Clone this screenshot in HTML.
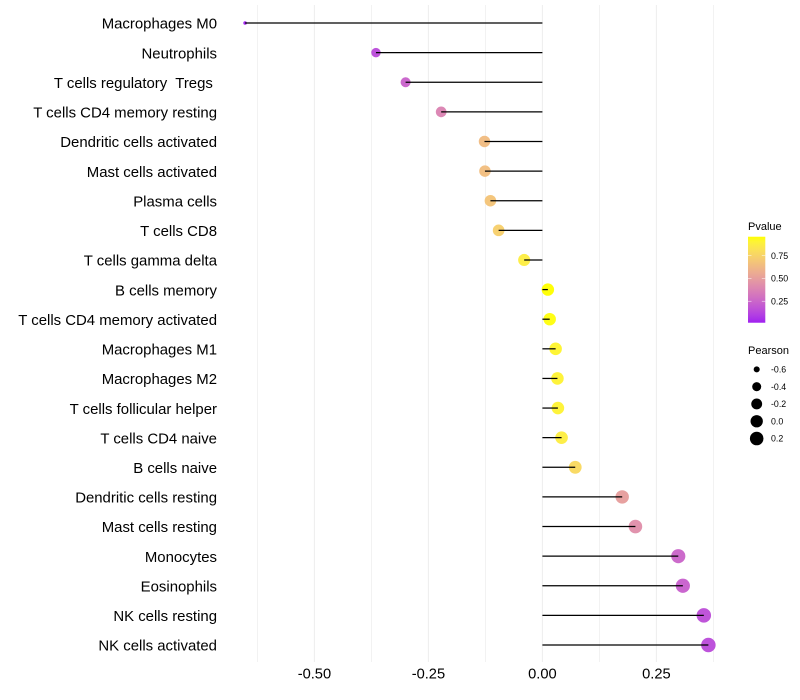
<!DOCTYPE html>
<html>
<head>
<meta charset="utf-8">
<title>Lollipop chart</title>
<style>
html,body{margin:0;padding:0;background:#fff;}
svg{display:block;font-family:"Liberation Sans",Arial,sans-serif;}
</style>
</head>
<body>
<svg id="chart" width="800" height="700" viewBox="0 0 800 700" xmlns="http://www.w3.org/2000/svg">
<defs>
<linearGradient id="pvalue-gradient" x1="0" y1="1" x2="0" y2="0"></linearGradient>
</defs>
<rect x="0" y="0" width="800" height="700" fill="#ffffff"/>
<g id="grid"></g>
<g id="points"></g>
<g id="stems"></g>
<g id="ylabels"></g>
<g id="xlabels"></g>
<g id="color-legend"></g>
<g id="size-legend"></g>
</svg>
<script>
const categories = ["Macrophages M0","Neutrophils","T cells regulatory  Tregs ","T cells CD4 memory resting","Dendritic cells activated","Mast cells activated","Plasma cells","T cells CD8","T cells gamma delta","B cells memory","T cells CD4 memory activated","Macrophages M1","Macrophages M2","T cells follicular helper","T cells CD4 naive","B cells naive","Dendritic cells resting","Mast cells resting","Monocytes","Eosinophils","NK cells resting","NK cells activated"];
const pearson = [-0.652,-0.365,-0.300,-0.222,-0.127,-0.126,-0.114,-0.096,-0.040,0.012,0.016,0.029,0.033,0.034,0.042,0.072,0.175,0.204,0.298,0.308,0.354,0.364];
const pvalue = [0.014,0.15,0.24,0.38,0.64,0.65,0.68,0.73,0.87,0.957,0.95,0.91,0.90,0.90,0.87,0.78,0.50,0.43,0.25,0.23,0.16,0.15];
const majorTicks = [-0.5,-0.25,0,0.25];
const minorTicks = [-0.625,-0.375,-0.125,0.125,0.375];
const xTickLabels = ["-0.50","-0.25","0.00","0.25"];
const colorTicks = [0.75,0.5,0.25];
const colorTickLabels = ["0.75","0.50","0.25"];
const sizeLegendValues = [-0.6,-0.4,-0.2,0,0.2];
const sizeLegendLabels = ["-0.6","-0.4","-0.2","0.0","0.2"];

const NS = "http://www.w3.org/2000/svg";
function make(tag, attrs, parent, text) {
  const el = document.createElementNS(NS, tag);
  for (const k in attrs) el.setAttribute(k, attrs[k]);
  if (text !== undefined) {
    el.textContent = text;
    el.setAttribute("xml:space", "preserve");
    el.style.whiteSpace = "pre";
  }
  parent.appendChild(el);
  return el;
}
const xScale = v => 542.4 + 456 * v;
const yScale = i => 23 + 29.62 * i;
const colorY = p => 301.2 + (0.25 - p) * 91.2;

const pMin = Math.min(...pvalue), pMax = Math.max(...pvalue);
const rMin = Math.min(...pearson), rMax = Math.max(...pearson);
function diameter(r) {
  const t = Math.max(0, (r - rMin) / (rMax - rMin));
  return 3.6 + 10.9 * Math.sqrt(t);
}

function toLab(c) {
  const l = c.map(v => { v /= 255; return v > 0.04045 ? Math.pow((v + 0.055) / 1.055, 2.4) : v / 12.92; });
  const X = (0.4124 * l[0] + 0.3576 * l[1] + 0.1805 * l[2]) / 0.95047;
  const Y = 0.2126 * l[0] + 0.7152 * l[1] + 0.0722 * l[2];
  const Z = (0.0193 * l[0] + 0.1192 * l[1] + 0.9505 * l[2]) / 1.08883;
  const f = t => t > 0.008856 ? Math.cbrt(t) : 7.787 * t + 16 / 116;
  return [116 * f(Y) - 16, 500 * (f(X) - f(Y)), 200 * (f(Y) - f(Z))];
}
function fromLab(L) {
  const fy = (L[0] + 16) / 116, fx = fy + L[1] / 500, fz = fy - L[2] / 200;
  const g = t => t * t * t > 0.008856 ? t * t * t : (t - 16 / 116) / 7.787;
  const X = g(fx) * 0.95047, Y = g(fy), Z = g(fz) * 1.08883;
  const rgb = [3.2406 * X - 1.5372 * Y - 0.4986 * Z, -0.9689 * X + 1.8758 * Y + 0.0415 * Z, 0.0557 * X - 0.2040 * Y + 1.0570 * Z];
  return "rgb(" + rgb.map(v => {
    v = Math.max(0, Math.min(1, v));
    v = v > 0.0031308 ? 1.055 * Math.pow(v, 1 / 2.4) - 0.055 : 12.92 * v;
    return Math.round(v * 255);
  }).join(",") + ")";
}
const labLow = toLab([160, 32, 240]);
const labHigh = toLab([255, 255, 0]);
function colorOf(p) {
  const t = Math.max(0, Math.min(1, (p - pMin) / (pMax - pMin)));
  return fromLab(labLow.map((v, i) => v + (labHigh[i] - v) * t));
}

const grid = document.getElementById("grid");
minorTicks.forEach(v => {
  const ln = make("line", {x1: xScale(v), x2: xScale(v), y1: 5, y2: 662, stroke: "#efefef", "stroke-width": 0.75}, grid);
  
  
});
majorTicks.forEach(v => {
  const ln = make("line", {x1: xScale(v), x2: xScale(v), y1: 5, y2: 662, stroke: "#eeeeee", "stroke-width": 1.07}, grid);
  
  
});

const pointsG = document.getElementById("points");
const stemsG = document.getElementById("stems");
const yLabelsG = document.getElementById("ylabels");
categories.forEach((name, i) => {
  const pt = make("circle", {cx: xScale(pearson[i]), cy: yScale(i), r: diameter(pearson[i]) / 2, fill: colorOf(pvalue[i]), "fill-opacity": 0.97}, pointsG);
  
  
  const stem = make("line", {x1: xScale(0), x2: xScale(pearson[i]), y1: yScale(i), y2: yScale(i), stroke: "#000000", "stroke-width": 1.25}, stemsG);
  
  
  const lab = make("text", {x: 217, y: yScale(i) + 5.7, "text-anchor": "end", "font-size": 14.93, fill: "#000000"}, yLabelsG, name);
  
  
});

const xLabelsG = document.getElementById("xlabels");
majorTicks.forEach((v, i) => {
  const lab = make("text", {x: xScale(v), y: 678.5, "text-anchor": "middle", "font-size": 14.67, fill: "#000000"}, xLabelsG, xTickLabels[i]);
  
  
});

const grad = document.getElementById("pvalue-gradient");
for (let k = 0; k <= 20; k++) {
  const t = k / 20;
  make("stop", {offset: t, "stop-color": colorOf(pMin + (pMax - pMin) * t)}, grad);
}
const colorLegend = document.getElementById("color-legend");
const cTitle = make("text", {x: 748, y: 230, "font-size": 11, fill: "#000000"}, colorLegend, "Pvalue");


const barTop = colorY(pMax), barBottom = colorY(pMin);
const bar = make("rect", {x: 748, y: barTop, width: 17.3, height: barBottom - barTop, fill: "url(#pvalue-gradient)"}, colorLegend);


colorTicks.forEach((p, i) => {
  const yy = colorY(p);
  const t1 = make("line", {x1: 748, x2: 751.5, y1: yy, y2: yy, stroke: "#ffffff", "stroke-width": 0.5}, colorLegend);
  
  
  const t2 = make("line", {x1: 761.8, x2: 765.3, y1: yy, y2: yy, stroke: "#ffffff", "stroke-width": 0.5}, colorLegend);
  
  
  const lab = make("text", {x: 771, y: yy + 3.2, "font-size": 8.8, fill: "#000000"}, colorLegend, colorTickLabels[i]);
  
  
});

const sizeLegend = document.getElementById("size-legend");
const sTitle = make("text", {x: 748, y: 354, "font-size": 11, fill: "#000000"}, sizeLegend, "Pearson");


sizeLegendValues.forEach((r, i) => {
  const yy = 369.4 + 17.28 * i;
  const key = make("circle", {cx: 756.7, cy: yy, r: diameter(r) / 2, fill: "#000000"}, sizeLegend);
  
  
  const lab = make("text", {x: 771, y: yy + 3.2, "font-size": 8.8, fill: "#000000"}, sizeLegend, sizeLegendLabels[i]);
  
  
});
</script>
</body>
</html>
